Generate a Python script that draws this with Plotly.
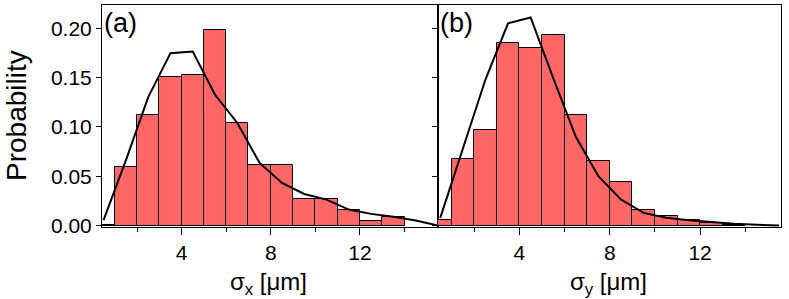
import plotly.graph_objects as go

# ---- data ----
bin_centers = [0.5, 1.5, 2.5, 3.5, 4.5, 5.5, 6.5, 7.5, 8.5, 9.5, 10.5, 11.5, 12.5, 13.5]
prob_x = [0.001, 0.059, 0.112, 0.151, 0.153, 0.198, 0.104, 0.061, 0.061, 0.027, 0.027, 0.016, 0.005, 0.009]
prob_y = [0.006, 0.0675, 0.097, 0.185, 0.180, 0.1936, 0.112, 0.065, 0.044, 0.016, 0.0094, 0.006, 0.003, 0.001]

fit_x = [0.5, 1.5, 2.5, 3.5, 4.5, 5.5, 6.5, 7.5, 8.5, 9.5, 10.5, 11.5, 12.5, 13.5, 14.5, 15.5]
fit_sx = [0.0054, 0.066, 0.130, 0.1748, 0.1765, 0.1326, 0.104, 0.0634, 0.0432, 0.032, 0.0263, 0.0162, 0.0118, 0.0088, 0.005, 0.0]
fit_sy = [0.0078, 0.078, 0.148, 0.205, 0.211, 0.1495, 0.090, 0.050, 0.0263, 0.0128, 0.0078, 0.0054, 0.0034, 0.0017, 0.0007, 0.0]

x_ticks = [4, 8, 12]
y_ticks = [0.00, 0.05, 0.10, 0.15, 0.20]
y_ticklabels = ["0.00", "0.05", "0.10", "0.15", "0.20"]

BAR = "rgb(255,102,102)"
FONT = "Liberation Sans, Arial, sans-serif"

fig = go.Figure()
fig.add_trace(go.Bar(x=bin_centers, y=prob_x, width=1, marker=dict(color=BAR, line=dict(color="black", width=1)),
                     xaxis="x", yaxis="y", showlegend=False))
fig.add_trace(go.Scatter(x=fit_x, y=fit_sx, mode="lines", line=dict(color="black", width=2),
                         xaxis="x", yaxis="y", showlegend=False))
fig.add_trace(go.Bar(x=bin_centers, y=prob_y, width=1, marker=dict(color=BAR, line=dict(color="black", width=1)),
                     xaxis="x2", yaxis="y2", showlegend=False))
fig.add_trace(go.Scatter(x=fit_x, y=fit_sy, mode="lines", line=dict(color="black", width=2),
                         xaxis="x2", yaxis="y2", showlegend=False))

W, H = 789, 299
ml, mr, mt, mb = 102, 8, 5, 72
pw = W - ml - mr
ph = H - mt - mb
split = (438 - ml) / pw

xcommon = dict(showline=True, linecolor="black", linewidth=1, mirror=True, showgrid=False, zeroline=False,
               ticks="outside", ticklen=7, tickwidth=1, tickcolor="black", tickvals=x_ticks,
               tickfont=dict(family=FONT, size=21, color="black"),
               minor=dict(tickvals=[2, 6, 10, 14], ticks="outside", ticklen=4, tickcolor="black", tickwidth=1))
ycommon = dict(showline=True, linecolor="black", linewidth=1, mirror=True, showgrid=False, zeroline=False,
               ticks="outside", ticklen=5, tickwidth=1, tickcolor="black", range=[-0.0015, 0.2236],
               tickvals=y_ticks, tickfont=dict(family=FONT, size=21, color="black"))

fig.update_layout(
    width=W, height=H, margin=dict(l=ml, r=mr, t=mt, b=mb),
    plot_bgcolor="white", paper_bgcolor="white", bargap=0,
    xaxis=dict(domain=[0, split], range=[0.43, 15.5], anchor="y", **xcommon),
    yaxis=dict(domain=[0, 1], anchor="x", ticktext=y_ticklabels, **ycommon),
    xaxis2=dict(domain=[split, 1], range=[0.4, 15.58], anchor="y2", **xcommon),
    yaxis2=dict(domain=[0, 1], anchor="x2", showticklabels=False, **ycommon),
    annotations=[
        dict(text="Probability", xref="paper", yref="paper", x=(16 - ml) / pw, y=(H - mb - 116) / ph,
             textangle=-90, showarrow=False, font=dict(family=FONT, size=28, color="black"),
             xanchor="center", yanchor="middle"),
        dict(text="σ<sub>x</sub> [μm]", xref="paper", yref="paper", x=(268 - ml) / pw, y=(H - mb - 283) / ph,
             showarrow=False, font=dict(family=FONT, size=24, color="black"), xanchor="center", yanchor="middle"),
        dict(text="σ<sub>y</sub> [μm]", xref="paper", yref="paper", x=(608 - ml) / pw, y=(H - mb - 283) / ph,
             showarrow=False, font=dict(family=FONT, size=24, color="black"), xanchor="center", yanchor="middle"),
        dict(text="(a)", xref="paper", yref="paper", x=(102 - ml) / pw, y=(H - mb - 23) / ph,
             showarrow=False, font=dict(family=FONT, size=27, color="black"), xanchor="left", yanchor="middle"),
        dict(text="(b)", xref="paper", yref="paper", x=(438 - ml) / pw, y=(H - mb - 23) / ph,
             showarrow=False, font=dict(family=FONT, size=27, color="black"), xanchor="left", yanchor="middle"),
    ],
)

fig.write_html("out.html", config={"displayModeBar": False},
               post_script="document.body.style.margin='0';document.body.style.overflow='hidden';"
                           "document.documentElement.style.overflow='hidden';")
